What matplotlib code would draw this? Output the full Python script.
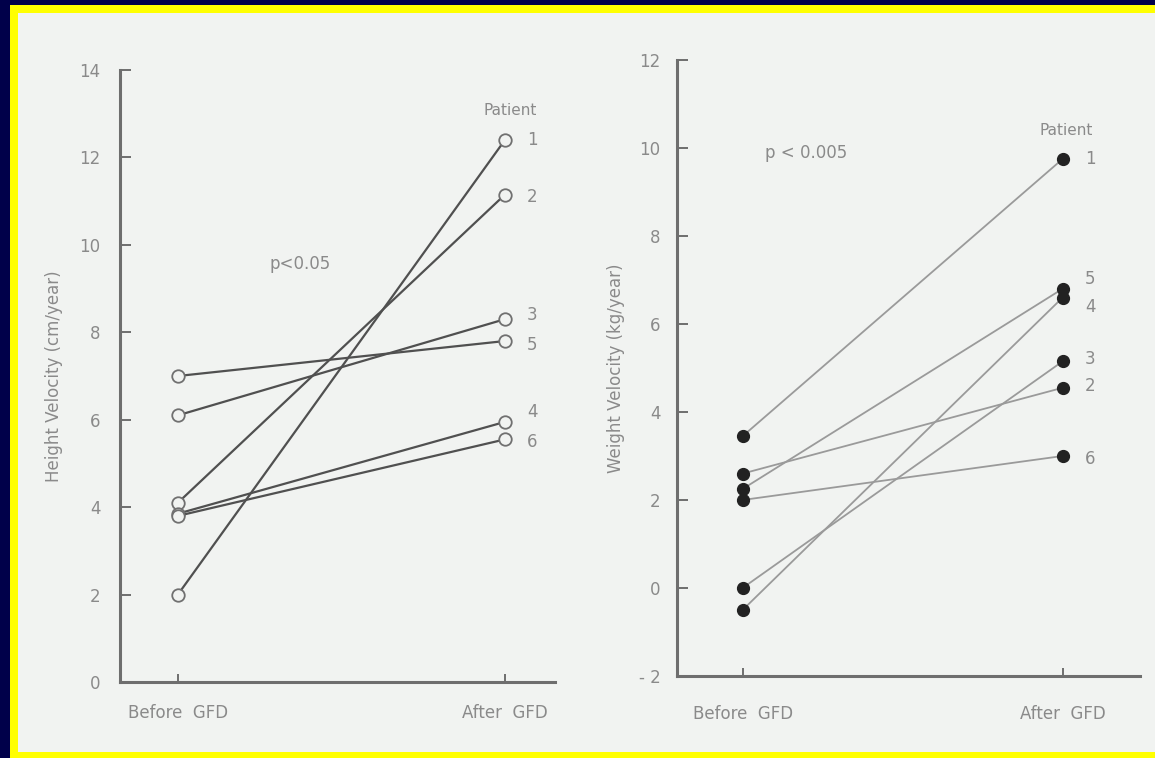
import matplotlib.pyplot as plt
from matplotlib.patches import Rectangle

# data
stages = ['Before  GFD', 'After  GFD']
patients = ['1', '2', '3', '4', '5', '6']

# height velocity (cm/year)
height_before = [2.0, 4.1, 6.1, 3.85, 7.0, 3.8]
height_after = [12.4, 11.15, 8.3, 5.95, 7.8, 5.55]

# weight velocity (kg/year)
weight_before = [3.45, 2.6, 0.0, -0.5, 2.25, 2.0]
weight_after = [9.75, 4.55, 5.15, 6.6, 6.8, 3.0]

plt.rcParams['font.family'] = ['DejaVu Sans']

W, H = 1155, 758
fig = plt.figure(figsize=(W / 100, H / 100), dpi=100, facecolor='#00004a')

# slide frame: navy, yellow border, off-white paper (kept behind the axes)
fig.patches.append(Rectangle((10 / W, 0), 1, 1 - 5 / H, transform=fig.transFigure,
                             facecolor='#ffff00', edgecolor='none', zorder=-10))
fig.patches.append(Rectangle((18 / W, 6 / H), 1, 1 - 19 / H, transform=fig.transFigure,
                             facecolor='#f1f3f1', edgecolor='none', zorder=-9))

ink = '#6e6e6e'
txt = '#8a8a8a'


def style_axes(ax, pad_y, pad_x):
    ax.set_facecolor('none')
    for s in ['top', 'right']:
        ax.spines[s].set_visible(False)
    for s in ['left', 'bottom']:
        ax.spines[s].set_color(ink)
        ax.spines[s].set_linewidth(2.2)
    ax.tick_params(axis='y', direction='in', length=8, width=1.4, color=ink,
                   labelcolor=txt, labelsize=12, pad=pad_y)
    ax.tick_params(axis='x', direction='in', length=6, width=1.4, color=ink,
                   labelcolor=txt, labelsize=12, pad=pad_x)
    ax.set_xticks([0, 1])
    ax.set_xticklabels(stages)


# ---- left panel: height velocity
ax1 = fig.add_axes([120 / W, 1 - 682 / H, 435 / W, 612 / H])
for b, a in zip(height_before, height_after):
    ax1.plot([0, 1], [b, a], color='#505050', lw=1.6, marker='o', ms=9,
             mfc='#f1f3f1', mec='#707070', mew=1.3)
ax1.set_xlim(-0.177, 1.153)
ax1.set_ylim(0, 14)
ax1.set_yticks(range(0, 15, 2))
style_axes(ax1, 14, 16)
ax1.set_ylabel('Height Velocity (cm/year)', color=txt, fontsize=12, labelpad=12)

nudge1 = {'1': 0, '2': -2, '3': 3, '4': 7, '5': -3, '6': -2}
for p, a in zip(patients, height_after):
    ax1.annotate(p, (1, a), xytext=(16, nudge1[p]), textcoords='offset points',
                 va='center', ha='left', color=txt, fontsize=12)
ax1.text(1.015, 13.08, 'Patient', ha='center', va='center', color=txt, fontsize=11)
ax1.text(0.28, 9.56, 'p<0.05', ha='left', va='center', color=txt, fontsize=12)

# ---- right panel: weight velocity
ax2 = fig.add_axes([677 / W, 1 - 676 / H, 463 / W, 616 / H])
for b, a in zip(weight_before, weight_after):
    ax2.plot([0, 1], [b, a], color='#9a9a9a', lw=1.3, marker='o', ms=8.5,
             mfc='#222222', mec='#222222')
ax2.set_xlim(-0.205, 1.242)
ax2.set_ylim(-2, 12)
ax2.set_yticks(range(-2, 13, 2))
ax2.set_yticklabels(['- 2'] + [str(v) for v in range(0, 13, 2)])
style_axes(ax2, 12, 21)
ax2.set_ylabel('Weight Velocity (kg/year)', color=txt, fontsize=12, labelpad=10)

nudge2 = {'1': 0, '2': 1, '3': 2, '4': -7, '5': 7, '6': -2}
for p, a in zip(patients, weight_after):
    ax2.annotate(p, (1, a), xytext=(16, nudge2[p]), textcoords='offset points',
                 va='center', ha='left', color=txt, fontsize=12)
ax2.text(1.01, 10.4, 'Patient', ha='center', va='center', color=txt, fontsize=11)
ax2.text(0.07, 9.89, 'p < 0.005', ha='left', va='center', color=txt, fontsize=12)

fig.savefig('out.png', dpi=100, facecolor=fig.get_facecolor())
